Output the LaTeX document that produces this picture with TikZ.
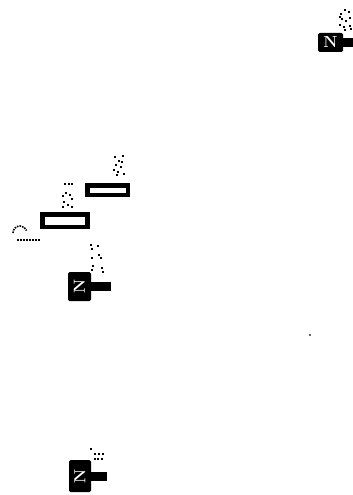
\documentclass[tikz,border=0pt]{standalone}
\usepackage{xcolor}
\usepackage{tikz}
\usetikzlibrary{positioning,calc}

\tikzset{
    pinbox/.style={draw=none, fill=black, inner sep=0pt, text=white, font=\bfseries\fontsize{16}{16}\selectfont, rounded corners=1.5pt},
    slotbox/.style={draw=black, line width=4.5pt, fill=white, inner sep=0pt},
    pinlead/.style={line width=9pt, black},
    speck/.style={fill=black, draw=none, inner sep=0pt, minimum size=2.5pt, rectangle}
}

\begin{document}
\begin{tikzpicture}[x=1pt, y=-1pt]
\useasboundingbox (0,0) rectangle (353,495);

% Black boxes with leads
\foreach \name/\cx/\cy/\w/\h/\rot/\lx in {pintop/330.5/42.5/25/19/0/353, pinmid/79.5/286.5/23/29/90/111, pinlow/80/476/22/32/90/107} {
    \node[pinbox, minimum width=\w pt, minimum height=\h pt] (\name) at (\cx,\cy) {\rotatebox{\rot}{N}};
    \coordinate (\name end) at (\lx,\cy);
    \draw[pinlead] (\name.east) -- (\name end);
}

% Open slots
\node[slotbox, minimum width=40.5pt, minimum height=9.5pt] (slotup) at (107.5,190) {};
\node[slotbox, minimum width=45pt, minimum height=12.5pt] (slotdown) at (65,220.5) {};

% Left mark
\draw[line width=1.6pt, densely dotted] (13,233) arc (180:340:7);
\draw[line width=2pt, densely dotted] (17,240) -- (40,240);

% Speckles
\foreach \x/\y in {341/14, 345/10, 349/12, 340/17, 342/19, 350/18, 346/21, 340/25, 344/27, 350/26, 351/29, 345/30,
    115/157, 119/161, 123/156, 116/165, 121/167, 114/170, 118/172, 124/174, 117/175, 122/162,
    65/184, 69/184, 72/184, 63/196, 66/193, 70/195, 72/199, 64/202, 68/205, 72/207, 63/207,
    91/245, 92/249, 98/246, 99/255, 101/258, 92/258, 93/266, 92/270, 102/268, 103/272,
    91/449, 95/454, 99/454, 103/454, 95/459, 98/459, 102/459} {
    \node[speck] at (\x,\y) {};
}

% Stray dot
\node[fill=black!60, inner sep=0pt, minimum size=2pt] (straydot) at (310,335) {};
\end{tikzpicture}
\end{document}
